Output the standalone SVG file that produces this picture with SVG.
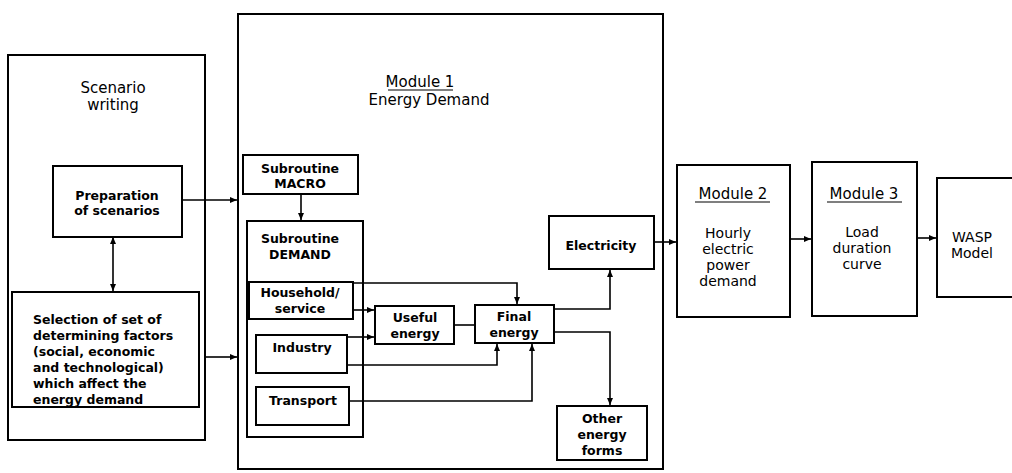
<svg xmlns="http://www.w3.org/2000/svg" width="1012" height="473" viewBox="0 0 1012 473">
<style>
.box{fill:none;stroke:#000;stroke-width:2}
.t{font-family:"DejaVu Sans","Liberation Sans",sans-serif;font-size:12.5px;font-weight:bold;fill:#000;text-anchor:middle}
.tl{font-family:"DejaVu Sans","Liberation Sans",sans-serif;font-size:12.5px;font-weight:bold;fill:#000}
.big{font-family:"DejaVu Sans","Liberation Sans",sans-serif;font-size:15px;fill:#000;text-anchor:middle}
.mid{font-family:"DejaVu Sans","Liberation Sans",sans-serif;font-size:14px;fill:#000;text-anchor:middle}
.ul{stroke:#000;stroke-width:1.2}
.c{fill:none;stroke:#000;stroke-width:1.6;marker-end:url(#ah)}
.cn{fill:none;stroke:#000;stroke-width:1.6}
</style>
<defs>
<marker id="ah" markerWidth="8" markerHeight="8" refX="7" refY="4" orient="auto-start-reverse" markerUnits="userSpaceOnUse">
<path d="M0,1 L7,4 L0,7 Z" fill="#000"/>
</marker>
</defs>
<rect width="1012" height="473" fill="#fff"/>

<g id="scenario">
<rect class="box" x="8" y="55" width="197" height="385"/>
<text class="big" x="113" y="93">Scenario</text>
<text class="big" x="113" y="110">writing</text>
</g>
<g id="preparation">
<rect class="box" x="53" y="166" width="129" height="71"/>
<text class="t" x="117" y="200">Preparation</text>
<text class="t" x="117" y="215">of scenarios</text>
</g>
<g id="selection">
<rect class="box" x="12" y="292" width="187" height="115"/>
<text class="tl" x="33" y="324">Selection of set of</text>
<text class="tl" x="33" y="340">determining factors</text>
<text class="tl" x="33" y="356">(social, economic</text>
<text class="tl" x="33" y="372">and technological)</text>
<text class="tl" x="33" y="388">which affect the</text>
<text class="tl" x="33" y="404">energy demand</text>
</g>

<g id="module1">
<rect class="box" x="238" y="14" width="425" height="455"/>
<text class="big" x="420" y="87">Module 1</text>
<line class="ul" x1="388" y1="90" x2="453" y2="90"/>
<text class="big" x="429" y="105">Energy Demand</text>
</g>
<g id="macro">
<rect class="box" x="243" y="155" width="115" height="39"/>
<text class="t" x="300" y="173">Subroutine</text>
<text class="t" x="300" y="188">MACRO</text>
</g>
<g id="demand">
<rect class="box" x="247" y="221" width="116" height="216"/>
<text class="t" x="300" y="243">Subroutine</text>
<text class="t" x="300" y="259">DEMAND</text>
</g>
<g id="household">
<rect class="box" x="249" y="282" width="104" height="37"/>
<text class="t" x="300" y="297">Household/</text>
<text class="t" x="300" y="313">service</text>
</g>
<g id="industry">
<rect class="box" x="256" y="335" width="91" height="38"/>
<text class="t" x="302" y="352">Industry</text>
</g>
<g id="transport">
<rect class="box" x="256" y="387" width="93" height="38"/>
<text class="t" x="303" y="405">Transport</text>
</g>
<g id="useful">
<rect class="box" x="375" y="306" width="79" height="38"/>
<text class="t" x="415" y="322">Useful</text>
<text class="t" x="415" y="338">energy</text>
</g>
<g id="final">
<rect class="box" x="475" y="305" width="79" height="38"/>
<text class="t" x="514" y="321">Final</text>
<text class="t" x="514" y="337">energy</text>
</g>
<g id="electricity">
<rect class="box" x="549" y="216" width="105" height="53"/>
<text class="t" x="601" y="250">Electricity</text>
</g>
<g id="other">
<rect class="box" x="557" y="406" width="90" height="54"/>
<text class="t" x="602" y="423">Other</text>
<text class="t" x="602" y="439">energy</text>
<text class="t" x="602" y="455">forms</text>
</g>

<g id="module2">
<rect class="box" x="677" y="165" width="113" height="152"/>
<text class="big" x="733" y="199">Module 2</text>
<line class="ul" x1="695" y1="202" x2="770" y2="202"/>
<text class="mid" x="728" y="238">Hourly</text>
<text class="mid" x="728" y="254">electric</text>
<text class="mid" x="728" y="270">power</text>
<text class="mid" x="728" y="286">demand</text>
</g>
<g id="module3">
<rect class="box" x="812" y="162" width="105" height="154"/>
<text class="big" x="864" y="199">Module 3</text>
<line class="ul" x1="827" y1="202" x2="902" y2="202"/>
<text class="mid" x="862" y="237">Load</text>
<text class="mid" x="862" y="253">duration</text>
<text class="mid" x="862" y="269">curve</text>
</g>
<g id="wasp">
<rect class="box" x="937" y="178" width="80" height="119"/>
<text class="mid" x="972" y="242">WASP</text>
<text class="mid" x="972" y="258">Model</text>
</g>

<g id="connectors">
<path class="c" d="M182,200 H237"/>
<path class="c" d="M113,237 V291" marker-start="url(#ah)"/>
<path class="c" d="M205,357 H237"/>
<path class="c" d="M301,194 V220"/>
<path class="c" d="M353,283 H517 V304"/>
<path class="c" d="M353,310 H374"/>
<path class="c" d="M347,337 H374"/>
<path class="cn" d="M454,325 H475"/>
<path class="c" d="M347,365 H497 V344"/>
<path class="c" d="M349,401 H532 V344"/>
<path class="c" d="M554,309 H610 V270"/>
<path class="c" d="M554,332 H610 V405"/>
<path class="c" d="M654,242 H676"/>
<path class="c" d="M790,239 H811"/>
<path class="c" d="M917,238 H936"/>
</g>
</svg>
